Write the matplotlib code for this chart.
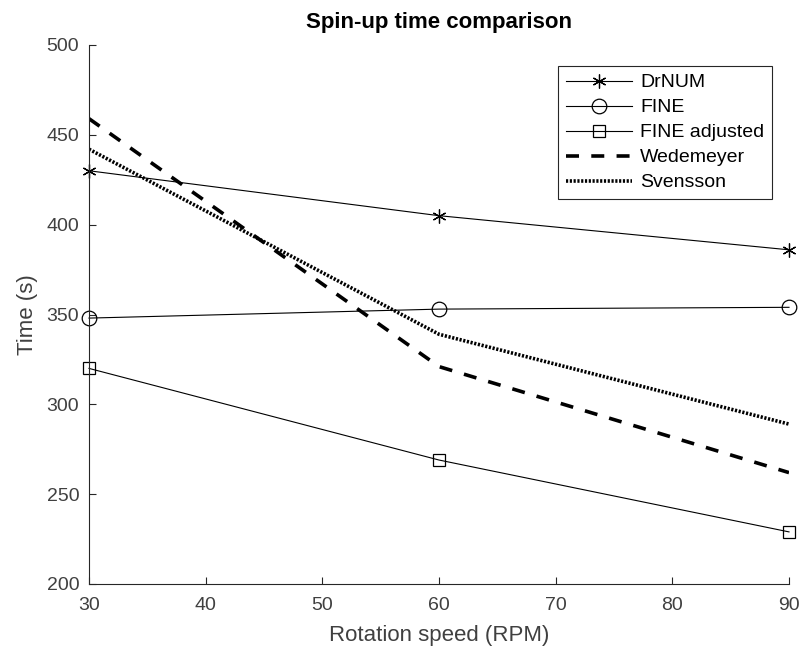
import matplotlib
matplotlib.use("Agg")
import matplotlib.pyplot as plt

plt.rcParams['font.family'] = ['Liberation Sans', 'DejaVu Sans']

rpm = [30, 60, 90]
drnum = [430, 405, 386]
fine = [348, 353, 354]
fine_adj = [320, 269, 229]
wedemeyer = [459, 321, 262]
svensson = [442, 339, 289]

xticks = [30, 40, 50, 60, 70, 80, 90]
yticks = [200, 250, 300, 350, 400, 450, 500]

fig = plt.figure(figsize=(8.01, 6.47), dpi=100)
ax = fig.add_axes([89/801, 1-584/647, (789-89)/801, (584-45)/647])

ax.plot(rpm, drnum, color='black', lw=0.8, marker=(6, 2, 0), ms=10, mew=0.9, label='DrNUM', clip_on=False)
ax.plot(rpm, fine, color='black', lw=0.8, marker='o', ms=10.5, mfc='none', mew=0.9, label='FINE', clip_on=False)
ax.plot(rpm, fine_adj, color='black', lw=0.8, marker='s', ms=8, mfc='none', mew=0.9, label='FINE adjusted', clip_on=False)
ax.plot(rpm, wedemeyer, color='black', lw=2.6, linestyle=(0, (3.6, 3.4)), label='Wedemeyer')
ax.plot(rpm, svensson, color='black', lw=2.6, linestyle=(0, (0.6, 0.45)), label='Svensson')

ax.set_xlim(30, 90)
ax.set_ylim(200, 500)
ax.set_xticks(xticks)
ax.set_yticks(yticks)

for s in ['top', 'right']:
    ax.spines[s].set_visible(False)
for s in ['left', 'bottom']:
    ax.spines[s].set_color('#262626')
    ax.spines[s].set_linewidth(0.8)

ax.tick_params(direction='in', length=5, width=0.8, colors='#262626', labelsize=14, labelcolor='#404040')
ax.tick_params(axis='y', pad=7)
ax.tick_params(axis='x', pad=9)

ax.set_xlabel('Rotation speed (RPM)', fontsize=16, color='#404040', labelpad=8)
ax.set_ylabel('Time (s)', fontsize=16, color='#404040', labelpad=6)
ax.set_title('Spin-up time comparison', fontsize=16, fontweight='bold', pad=12)

leg = ax.legend(loc='upper right', bbox_to_anchor=(772/801, 1-66/647), bbox_transform=fig.transFigure,
                fontsize=14, frameon=True, fancybox=False, edgecolor='#262626', framealpha=1,
                numpoints=1, handlelength=3.4, borderpad=0.4, labelspacing=0.38, handletextpad=0.4,
                borderaxespad=0)
leg.get_frame().set_linewidth(0.8)
leg.set_zorder(5)

fig.savefig('out.png', dpi=100)
